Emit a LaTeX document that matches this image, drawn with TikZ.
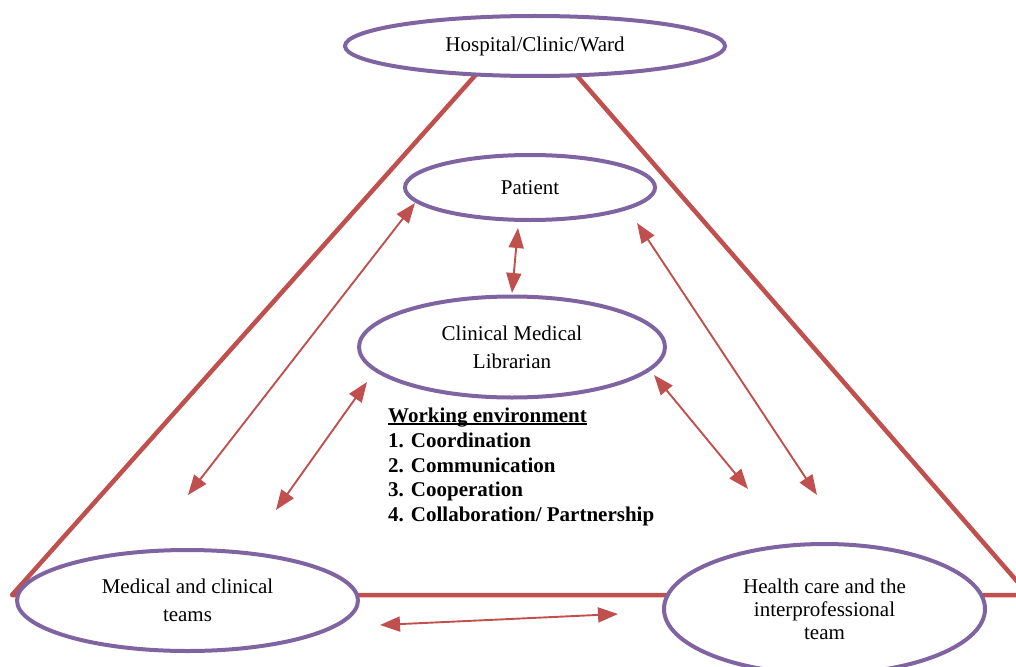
\documentclass[tikz,border=0pt]{standalone}
\usepackage{fontspec}
\setmainfont{Liberation Serif}
\usetikzlibrary{shapes.geometric,arrows.meta}
\definecolor{ellpurple}{HTML}{8064A2}
\definecolor{framered}{HTML}{C0504D}
\newcommand\myul[1]{\setbox0\hbox{#1}\rlap{\rule[-2.5pt]{\wd0}{1.5pt}}\box0}
\begin{document}
\begin{tikzpicture}[x=1pt,y=-1pt,
  oval/.style={ellipse,draw=ellpurple,line width=4pt,fill=white,inner sep=0pt,align=center,font=\fontsize{21}{28}\selectfont},
  frame/.style={draw=framered,line width=4.5pt,line join=round},
  link/.style={draw=framered,line width=1.9pt,{Triangle[length=20pt,width=15pt]}-{Triangle[length=20pt,width=15pt]}},
  envtext/.style={anchor=base west,inner sep=0pt,font=\fontsize{21}{25}\selectfont\bfseries}]
\useasboundingbox (0,0) rectangle (1016,666);
\clip (0,0) rectangle (1016,666);
% frame triangle corners
\coordinate (tl) at (480,70);
\coordinate (tr) at (572,70);
\coordinate (bl) at (12,595);
\coordinate (br) at (1029,595);
\draw[frame] (tl) -- (bl) -- (br) -- (tr);
% ellipses
\node[oval,minimum width=380pt,minimum height=60pt] (hosp) at (535,46) {Hospital/Clinic/Ward};
\node[oval,minimum width=250pt,minimum height=65pt] (pat) at (530,187.5) {Patient};
\node[oval,minimum width=306pt,minimum height=101pt] (lib) at (512,347) {Clinical Medical\\Librarian};
\node[oval,minimum width=341pt,minimum height=101pt] (med) at (187.5,600.5) {Medical and clinical\\teams};
\node[oval,minimum width=321pt,minimum height=130pt,font=\fontsize{21}{23}\selectfont] (hc) at (824.5,609) {Health care and the\\interprofessional\\team};
% working environment text
\node[envtext] (w0) at (388,422) {\myul{Working environment}};
\node[envtext] (w1) at (388,447) {1. Coordination};
\node[envtext] (w2) at (388,472) {2. Communication};
\node[envtext] (w3) at (388,496) {3. Cooperation};
\node[envtext] (w4) at (388,521) {4. Collaboration/ Partnership};
% arrow end points
\coordinate (a1) at (518,228); \coordinate (b1) at (512,293);
\coordinate (a2) at (415,203); \coordinate (b2) at (188,495);
\coordinate (a3) at (367,382); \coordinate (b3) at (276,510);
\coordinate (a4) at (637,223); \coordinate (b4) at (817,495);
\coordinate (a5) at (654,375); \coordinate (b5) at (748,489);
\coordinate (a6) at (380,625); \coordinate (b6) at (618,614);
\draw[link] (a1) -- (b1);
\draw[link] (a2) -- (b2);
\draw[link] (a3) -- (b3);
\draw[link] (a4) -- (b4);
\draw[link] (a5) -- (b5);
\draw[link] (a6) -- (b6);
\end{tikzpicture}
\end{document}
